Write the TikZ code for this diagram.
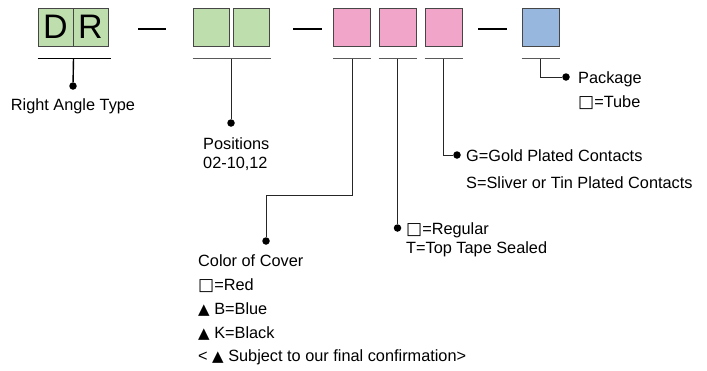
\documentclass[tikz,border=0pt]{standalone}
\usepackage{fontspec}
\setmainfont{Liberation Sans}
\newfontfamily\symfont{DejaVu Sans}
\newcommand{\opensq}{{\symfont\fontsize{17}{17}\selectfont □}}
\newcommand{\uptri}{{\symfont\fontsize{15}{15}\selectfont ▲}}
\usetikzlibrary{positioning,calc}
\definecolor{boxgreen}{RGB}{190,222,174}
\definecolor{boxpink}{RGB}{241,165,200}
\definecolor{boxblue}{RGB}{152,183,222}
\definecolor{rim}{RGB}{70,70,70}
\tikzset{
  cell/.style={draw=rim, line width=1pt, minimum width=36pt, minimum height=38pt,
               inner sep=0pt, font=\fontsize{34}{34}\selectfont},
  gcell/.style={cell, fill=boxgreen},
  pcell/.style={cell, fill=boxpink},
  bcell/.style={cell, fill=boxblue},
  hyph/.style={line width=1.3pt, black},
  uline/.style={line width=1pt, black!65},
  stem/.style={line width=1pt, black!85},
  dot/.style={circle, fill=black, inner sep=0pt, minimum size=7.5pt},
  lbl/.style={font=\fontsize{16.3}{19}\selectfont, align=left, inner sep=0pt, anchor=north west}
}
\begin{document}
\begin{tikzpicture}[x=1pt, y=-1pt]
\useasboundingbox (0,0) rectangle (707,370);
% part number cells
\node[gcell, minimum width=35pt] (d) at (55.5,27) {D};
\node[gcell, minimum width=35pt, right=-1pt of d] (r) {R};
\node[gcell] (g1) at (211,27) {};
\node[gcell, right=3pt of g1] (g2) {};
\node[pcell, minimum width=37pt] (p1) at (352,27) {};
\node[pcell, minimum width=37pt, right=7.5pt of p1] (p2) {};
\node[pcell, minimum width=37pt, right=8pt of p2] (p3) {};
\node[bcell, minimum width=37pt] (b) at (540.5,27) {};
\draw[hyph] (138,29) -- (166,29);
\draw[hyph] (293,29) -- (322,29);
\draw[hyph] (478,29) -- (507,29);
% underlines
\draw[uline, line width=1.4pt, black] ($(d.south west)+(0,12)$) -- ($(r.south east)+(2,12)$);
\draw[uline] ($(g1.south west)+(0,12)$) -- ($(g2.south east)+(1,12)$);
\draw[uline] ($(p1.south west)+(0,12)$) -- ($(p1.south east)+(0,12)$);
\draw[uline] ($(p2.south west)+(0,12)$) -- ($(p2.south east)+(0,12)$);
\draw[uline] ($(p3.south west)+(0,12)$) -- ($(p3.south east)+(0,12)$);
\draw[uline] ($(b.south west)+(0,12)$) -- ($(b.south east)+(0,12)$);
% dots
\node[dot] (dr) at (73,86) {};
\node[dot] (pos) at (231,123) {};
\node[dot] (col) at (266,241) {};
\node[dot] (seal) at (397.5,228) {};
\node[dot] (plat) at (457,155) {};
\node[dot] (pack) at (566,77) {};
% stems
\draw[stem, line width=1.4pt, black] ($(d.south east)+(0,12)$) -- (dr);
\draw[stem] ($(g1.south east)!0.5!(g2.south west)+(0,12)$) -- (pos);
\draw[stem] ($(p1.south)+(0,12)$) -- ++(0,137) -| (col);
\draw[stem] ($(p2.south)+(0,12)$) -- (seal);
\draw[stem] ($(p3.south)+(0,12)$) |- (plat);
\draw[stem] ($(b.south)+(0,12)$) |- (pack);
% texts
\node[lbl, anchor=base] (drtxt) at (73,110) {Right Angle Type};
\node[lbl] (postxt) at (203,137.5) {Positions\\02-10,12};
\node[lbl] (coltxt) at (198,254.5) {Color of Cover\\[5pt]\opensq=Red\\[5pt]\uptri\ B=Blue\\[5pt]\uptri\ K=Black\\[4pt]< \uptri\ Subject to our final confirmation>};
\node[lbl] (sealtxt) at (406,222.5) {\opensq=Regular\\T=Top Tape Sealed};
\node[lbl] (plattxt) at (466,149.5) {G=Gold Plated Contacts\\[8pt]S=Sliver or Tin Plated Contacts};
\node[lbl] (packtxt) at (578,71.5) {Package\\[5pt]\opensq=Tube};
\end{tikzpicture}
\end{document}
